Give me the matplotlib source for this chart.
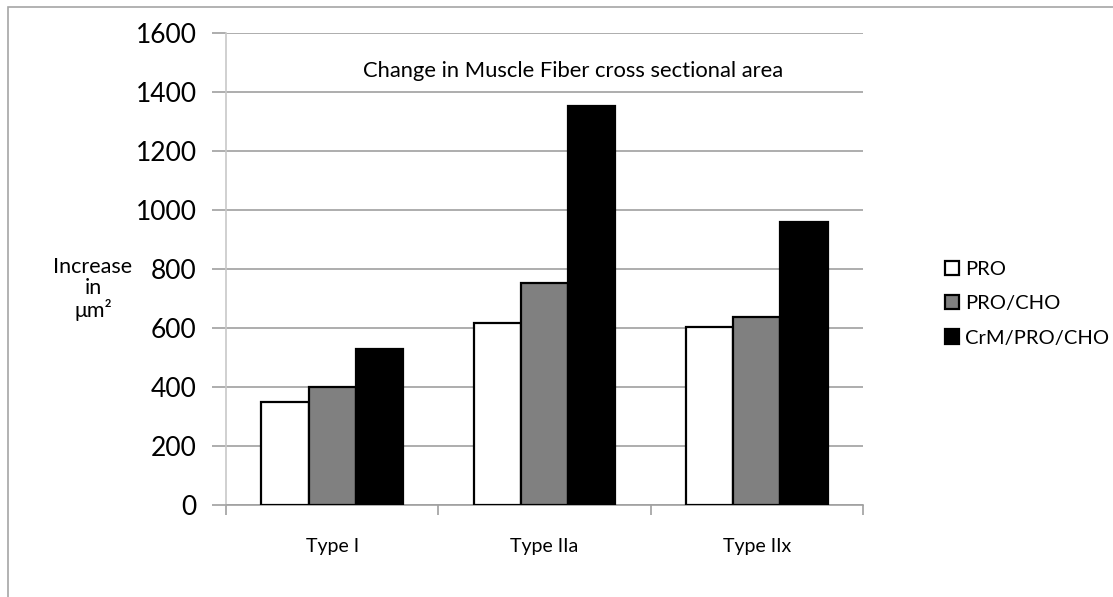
import matplotlib.pyplot as plt
from matplotlib.patches import Patch, Rectangle
import numpy as np

plt.rcParams['font.family'] = ['Lato', 'DejaVu Sans']

# data
categories = ['Type I', 'Type IIa', 'Type IIx']
series = ['PRO', 'PRO/CHO', 'CrM/PRO/CHO']
pro = [349, 617, 604]
pro_cho = [400, 752, 636]
crm_pro_cho = [529, 1353, 958]
values = [pro, pro_cho, crm_pro_cho]
colors = ['white', '#808080', 'black']
y_ticks = [0, 200, 400, 600, 800, 1000, 1200, 1400, 1600]

fig = plt.figure(figsize=(11.13, 5.97), dpi=100)
ax = fig.add_axes([226/1113, 1 - 505/597, 637/1113, 472/597])

# outer chart border (clipped at right/bottom like the reference)
fig.patches.append(Rectangle((8/1113, -0.1), 1.2, 1 - 7/597 + 0.1,
                             transform=fig.transFigure, fill=False,
                             edgecolor='#a6a6a6', linewidth=1.2))

x = np.arange(len(categories))
w = 1 / 4.5
for i, (vals, c) in enumerate(zip(values, colors)):
    ax.bar(x + (i - 1) * w, vals, width=w, color=c, edgecolor='black',
           linewidth=1.6, label=series[i], zorder=3)

ax.set_xlim(-0.5, 2.5)
ax.set_ylim(0, 1600)
ax.set_yticks(y_ticks)
ax.set_yticklabels([str(t) for t in y_ticks], fontsize=19)
ax.grid(axis='y', color='#a0a0a0', linewidth=1.2, zorder=0)
ax.tick_params(axis='y', length=10, width=1.2, color='#a0a0a0', pad=11)

# category boundary ticks, labels at centers
ax.set_xticks([-0.5, 0.5, 1.5, 2.5])
ax.set_xticklabels([])
ax.set_xticks(x, minor=True)
ax.set_xticklabels(categories, minor=True)
ax.tick_params(axis='x', which='major', length=7, width=1.2, color='#a0a0a0')
ax.tick_params(axis='x', which='minor', length=0, pad=24, labelsize=14)

for s in ['top', 'right']:
    ax.spines[s].set_visible(False)
ax.spines['left'].set_color('#c8c8c8')
ax.spines['left'].set_linewidth(1.2)
ax.spines['bottom'].set_color('#a0a0a0')
ax.spines['bottom'].set_linewidth(1.2)

ax.text(0.545, 0.92, 'Change in Muscle Fiber cross sectional area',
        transform=ax.transAxes, ha='center', va='center', fontsize=15.8)

fig.text(93/1113, 1 - 289/597, 'Increase\nin\nμm²', ha='center', va='center',
         fontsize=15.5, linespacing=1.05)

handles = [Patch(facecolor=c, edgecolor='black', linewidth=1.6) for c in colors]
fig.legend(handles, series, loc='upper left', bbox_to_anchor=(937/1113, 1 - 253/597),
           frameon=False, fontsize=14.5, handlelength=0.7, handleheight=0.7,
           handletextpad=0.3, labelspacing=0.85, borderaxespad=0)

fig.savefig('out.png', dpi=100)
